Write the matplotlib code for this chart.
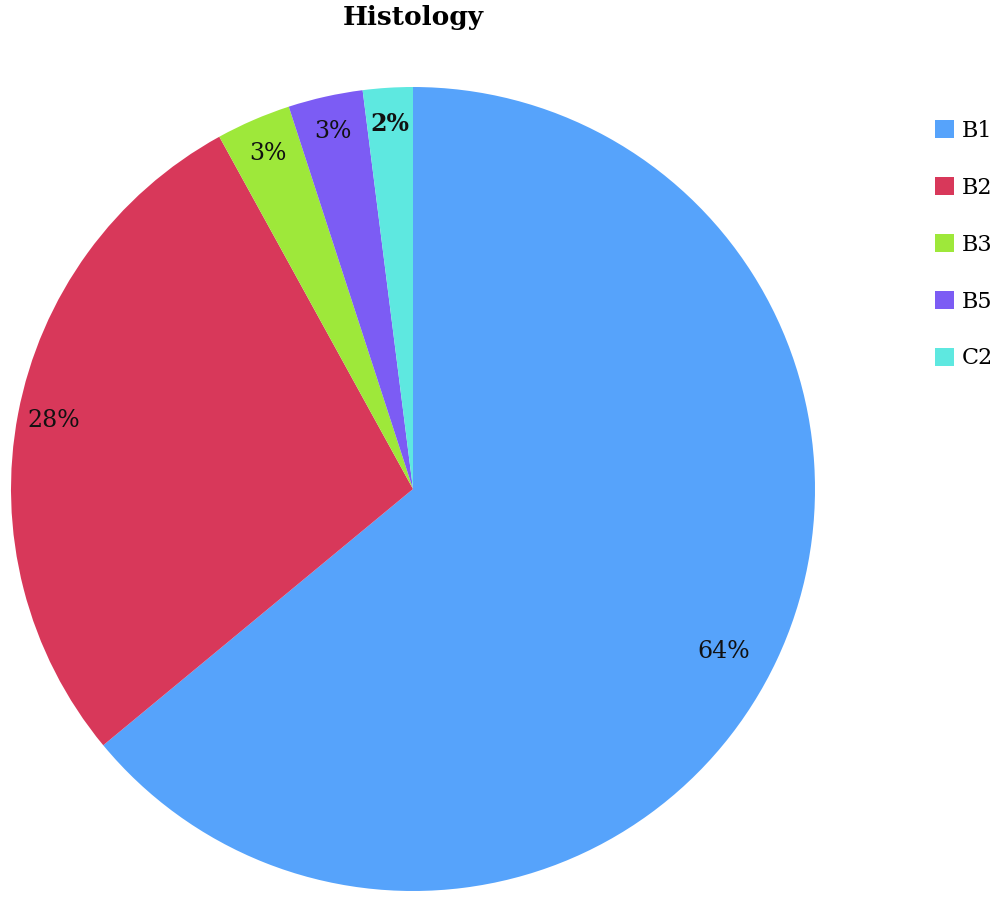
import matplotlib
matplotlib.use("Agg")
import matplotlib.pyplot as plt

labels = ["B1", "B2", "B3", "B5", "C2"]
values = [64, 28, 3, 3, 2]
colors = ["#56a3fb", "#d8385a", "#9ee83a", "#7c5cf4", "#5ee8e0"]

plt.rcParams["font.family"] = ["DejaVu Serif"]

fig = plt.figure(figsize=(10, 9.08), dpi=100)
ax = fig.add_axes([0.011, 0.0187, 0.804, 0.8855])

wedges, texts, autotexts = ax.pie(
    values, colors=colors, startangle=90, counterclock=False,
    autopct="%1.0f%%", pctdistance=0.91,
    textprops={"fontsize": 17, "color": "#111111"},
)
ax.set_xlim(-1, 1)
ax.set_ylim(-1, 1)
ax.set_aspect("equal")

# nudge the big label a bit inward, bold the last one
x, y = autotexts[0].get_position()
autotexts[0].set_position((x * 0.94, y * 0.94 - 0.04))
autotexts[-1].set_fontweight("bold")

fig.text(0.413, 0.994, "Histology", ha="center", va="top",
         fontsize=19, fontweight="bold")

fig.legend(wedges, labels, loc="upper left", bbox_to_anchor=(0.935, 0.868),
           frameon=False, fontsize=16, labelspacing=1.57,
           handlelength=0.85, handleheight=0.85, handletextpad=0.35,
           borderaxespad=0, borderpad=0)

fig.savefig("out.png", dpi=100)
